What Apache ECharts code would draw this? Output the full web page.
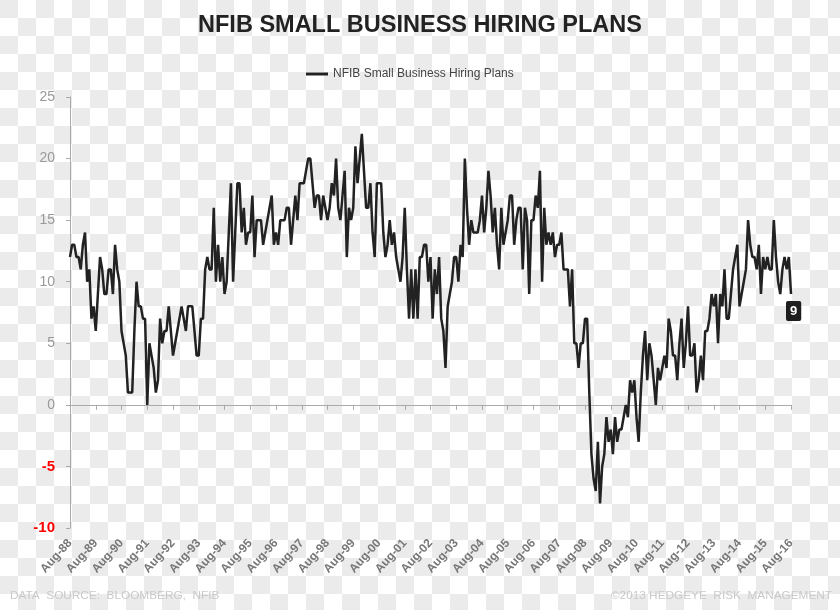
<!DOCTYPE html>
<html>
<head>
<meta charset="utf-8">
<title>NFIB Small Business Hiring Plans</title>
<script src="https://cdn.jsdelivr.net/npm/echarts@6/dist/echarts.min.js"></script>
<style>
  html, body { margin: 0; padding: 0; }
  #main { width: 840px; height: 610px; }
</style>
</head>
<body>
<div id="main"></div>
<script>
// NFIB hiring plans, monthly, Aug-88 .. Aug-16 (net % of firms planning to add jobs)
var plans1988to1995 = [
  12, 13, 13, 12, 12, 11, 13, 14, 10, 11,
  7, 8, 6, 9, 12, 11, 9, 9, 11, 11,
  9, 13, 11, 10, 6, 5, 4, 1, 1, 1,
  6, 10, 8, 8, 7, 7, 0, 5, 4, 3,
  1, 2, 7, 5, 6, 6, 8, 6, 4, 5,
  6, 7, 8, 7, 6, 8, 8, 8, 6, 4,
  4, 7, 7, 11, 12, 11, 11, 16, 10, 13,
  10, 12, 9, 10, 14, 18, 10, 14, 18, 18,
  14, 16, 13, 14
]
var plans1995to2002 = [
  14, 17, 12, 15, 15, 15,
  13, 14, 15, 16, 17, 13, 14, 13, 15, 15,
  15, 16, 16, 13, 15, 17, 15, 18, 18, 18,
  19, 20, 20, 18, 16, 17, 17, 15, 17, 16,
  15, 16, 18, 17, 20, 16, 15, 17, 19, 12,
  16, 15, 16, 21, 18, 20, 22, 19, 16, 16,
  18, 14, 12, 18, 18, 18, 14, 12, 13, 15,
  13, 14, 12, 11, 10, 12, 16, 11, 7, 11,
  7, 11, 7, 12, 12, 13, 13, 10
]
var plans2002to2009 = [
  12, 7,
  11, 9, 12, 7, 6, 3, 8, 9, 10, 12,
  12, 10, 13, 12, 20, 16, 13, 15, 14, 14,
  14, 15, 17, 14, 16, 19, 17, 14, 16, 13,
  11, 16, 13, 14, 15, 17, 17, 13, 15, 16,
  16, 11, 16, 15, 9, 15, 15, 17, 16, 19,
  10, 16, 13, 14, 13, 14, 12, 13, 13, 14,
  11, 11, 11, 8, 11, 5, 5, 3, 5, 5,
  7, 7, 1, -4, -6, -7, -3, -8, -5, -4,
  -1, -3
]
var plans2009to2016 = [
  -2, -4, -1, -3, -2, -2, -1, 0,
  -1, 2, 1, 2, -1, -3, 1, 4, 6, 2,
  5, 4, 2, 0, 3, 2, 3, 4, 3, 7,
  6, 4, 4, 2, 5, 7, 3, 5, 8, 4,
  4, 5, 1, 2, 4, 2, 6, 6, 7, 9,
  8, 9, 5, 9, 8, 11, 7, 7, 9, 11,
  12, 13, 8, 9, 10, 11, 15, 13, 12, 12,
  11, 13, 9, 12, 11, 12, 11, 11, 15, 12,
  10, 9, 11, 12, 11, 12, 9
]
var monthNames = ['Jan', 'Feb', 'Mar', 'Apr', 'May', 'Jun', 'Jul', 'Aug', 'Sep', 'Oct', 'Nov', 'Dec']
var startYear = 1988
var startMonth = 7 // Aug

var plans = plans1988to1995.concat(plans1995to2002, plans2002to2009, plans2009to2016)

var months = []
for (var i = 0; i < plans.length; i++) {
  var m = (startMonth + i) % 12
  var y = startYear + Math.floor((startMonth + i) / 12)
  months.push(monthNames[m] + '-' + String(y).slice(2))
}

// checkerboard backdrop like the source image
var board = document.createElement('canvas')
board.width = 36
board.height = 36
var ctx = board.getContext('2d')
ctx.fillStyle = '#ffffff'
ctx.fillRect(0, 0, 36, 36)
ctx.fillStyle = '#ebebeb'
ctx.fillRect(0, 0, 18, 18)
ctx.fillRect(18, 18, 18, 18)

var myChart = echarts.init(document.getElementById('main'))
var option = {
  backgroundColor: { image: board, repeat: 'repeat' },
  animation: false,
  title: [{
    text: 'NFIB SMALL BUSINESS HIRING PLANS',
    left: 'center',
    top: 14,
    padding: 0,
    textStyle: { fontFamily: 'Liberation Sans', fontSize: 23.5, fontWeight: 'bold', color: '#222' }
  }, {
    text: 'DATA  SOURCE:  BLOOMBERG,  NFIB',
    left: 10,
    top: 590,
    padding: 0,
    textStyle: { fontFamily: 'Liberation Sans', fontSize: 11.8, fontWeight: 'normal', color: '#c9c9c9' }
  }, {
    text: '\u00a92013 HEDGEYE  RISK  MANAGEMENT',
    right: 8,
    top: 590,
    padding: 0,
    textStyle: { fontFamily: 'Liberation Sans', fontSize: 11.8, fontWeight: 'normal', color: '#c9c9c9' }
  }],
  legend: {
    top: 68,
    left: 306,
    icon: 'rect',
    itemWidth: 22,
    itemHeight: 3,
    padding: 0,
    data: ['NFIB Small Business Hiring Plans'],
    textStyle: { fontFamily: 'Liberation Sans', fontSize: 12, color: '#444' }
  },
  grid: { left: 70, right: 49, top: 97, bottom: 82 },
  xAxis: [{
    type: 'category',
    data: months,
    boundaryGap: false,
    position: 'bottom',
    axisLine: { onZero: true, lineStyle: { color: '#aaa', width: 1 } },
    axisTick: { interval: 11, length: 5, lineStyle: { color: '#aaa' } },
    axisLabel: { show: false },
    splitLine: { show: false }
  }, {
    type: 'category',
    data: months,
    boundaryGap: false,
    position: 'bottom',
    axisLine: { show: false, onZero: false },
    axisTick: { show: false },
    axisLabel: {
      interval: 11,
      rotate: 48,
      margin: 13,
      fontFamily: 'Liberation Sans',
      fontSize: 12,
      fontWeight: 'bold',
      color: '#777'
    },
    splitLine: { show: false }
  }],
  yAxis: {
    type: 'value',
    min: -10,
    max: 25,
    interval: 5,
    axisLine: { show: true, lineStyle: { color: '#aaa', width: 1 } },
    axisTick: { show: true, length: 4, lineStyle: { color: '#aaa' } },
    splitLine: { show: false },
    axisLabel: {
      margin: 15,
      fontFamily: 'Liberation Sans',
      fontSize: 14,
      color: '#999',
      formatter: function (v) {
        return v < 0 ? '{neg|' + v + '}' : String(v)
      },
      rich: {
        neg: { fontFamily: 'Liberation Sans', fontSize: 15, fontWeight: 'bold', color: '#ff0000' }
      }
    }
  },
  series: [{
    name: 'NFIB Small Business Hiring Plans',
    type: 'line',
    xAxisIndex: 0,
    data: plans,
    symbol: 'none',
    itemStyle: { color: '#222' },
    lineStyle: { color: '#222', width: 2.5 },
    endLabel: {
      show: true,
      distance: 0,
      offset: [-5, 17],
      backgroundColor: '#1e1e1e',
      color: '#fff',
      fontFamily: 'Liberation Sans',
      fontSize: 13,
      fontWeight: 'bold',
      padding: [4, 4, 3, 4],
      borderRadius: 2
    }
  }]
}
myChart.setOption(option)
</script>
</body>
</html>
